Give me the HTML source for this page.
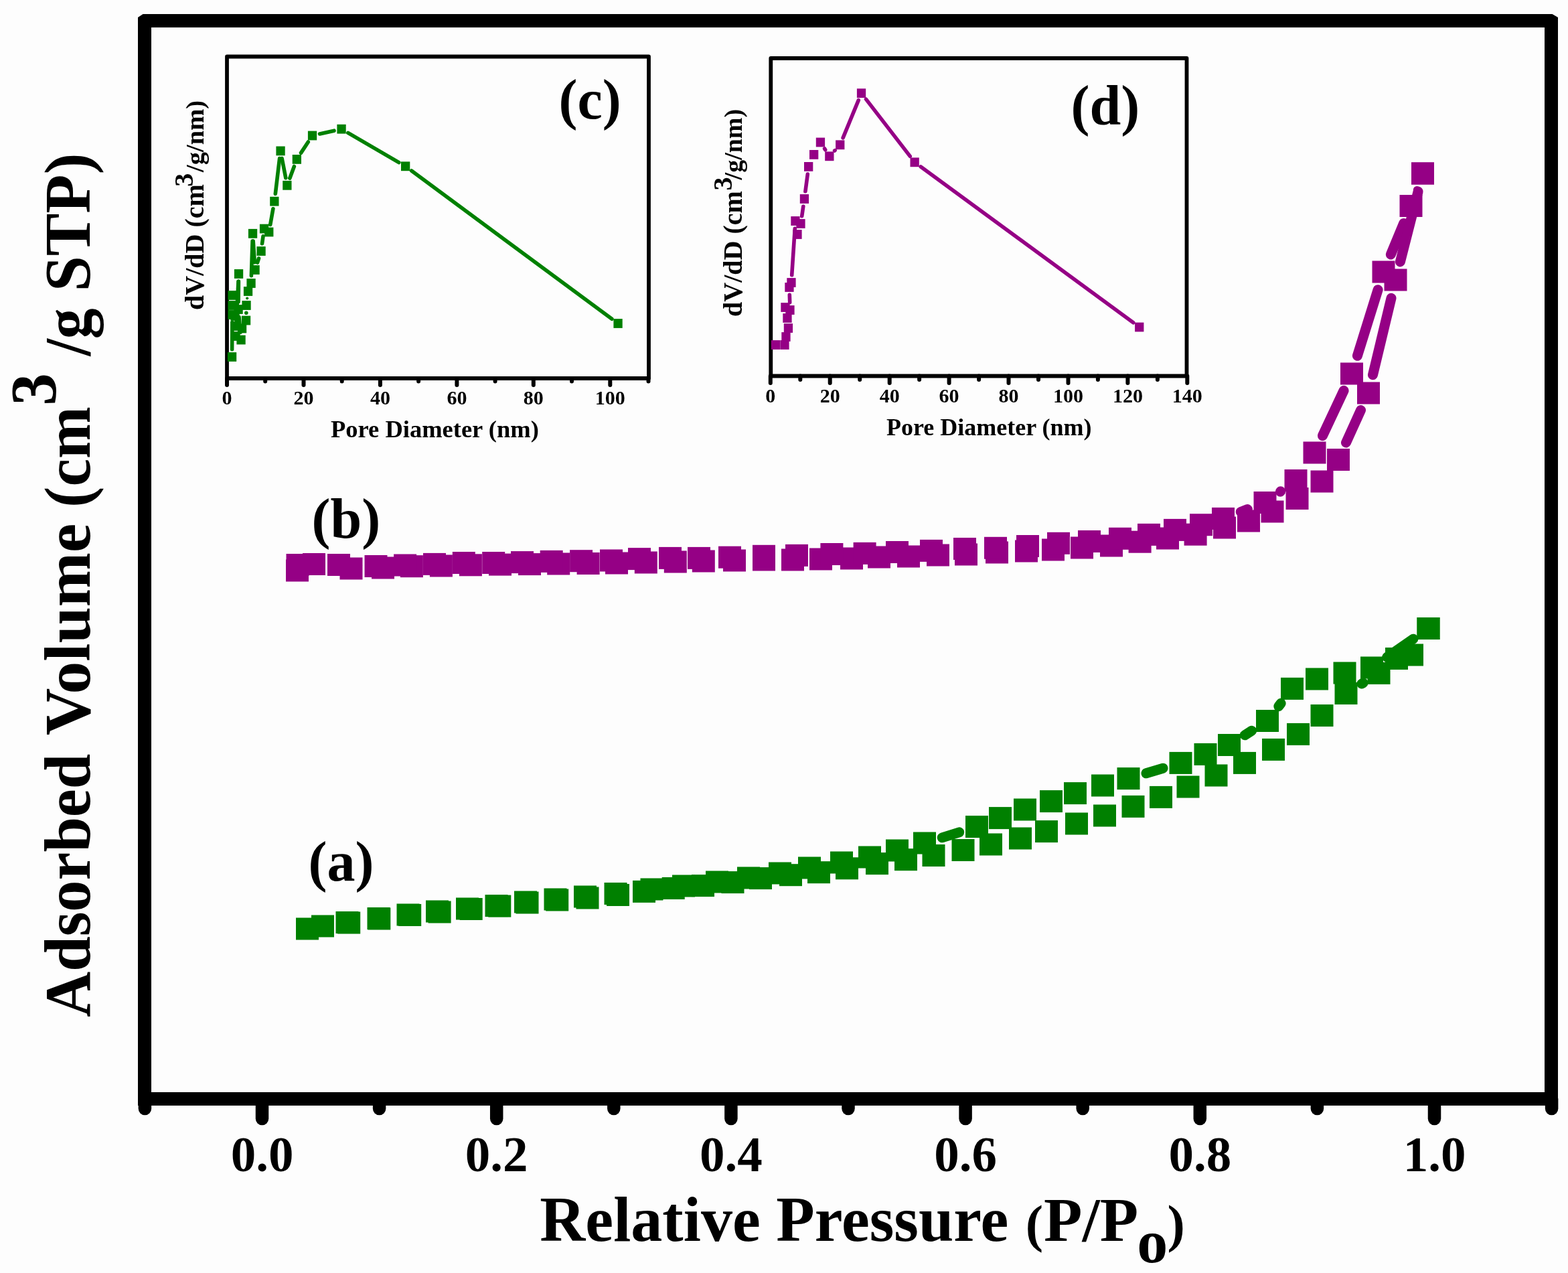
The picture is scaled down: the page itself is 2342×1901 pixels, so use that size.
<!DOCTYPE html><html><head><meta charset="utf-8"><title>Adsorption isotherm</title><style>html,body{margin:0;padding:0;background:#fdfdfd}svg{display:block}</style></head><body>
<svg width="2342" height="1901" viewBox="0 0 2342 1901">
<rect width="2342" height="1901" fill="#fdfdfd"/>
<g stroke="#008000" stroke-width="15" stroke-linecap="round" fill="none"><line x1="2110.9" y1="954.2" x2="2071.6" y2="981.3"/><line x1="1913.2" y1="1050.2" x2="1909.8" y2="1054.7"/><line x1="1869.7" y1="1091.2" x2="1859.3" y2="1097.8"/><line x1="1737.1" y1="1147.2" x2="1711.9" y2="1154.8"/><line x1="1432.8" y1="1242.8" x2="1407.2" y2="1250.8"/></g>
<g stroke="#008000" stroke-width="15" stroke-linecap="round" fill="none"><line x1="2033.9" y1="1021.1" x2="2036.1" y2="1019.8"/></g>
<g stroke="#950085" stroke-width="15" stroke-linecap="round" fill="none"><circle cx="2116.2" cy="283.2" r="5.3" stroke="none" fill="#950085"/><line x1="2096.7" y1="333.4" x2="2077.3" y2="380.1"/><line x1="2058.1" y1="432.7" x2="2027.4" y2="531.3"/><line x1="2007.1" y1="583.3" x2="1975.4" y2="650.7"/><line x1="1912.7" y1="733.8" x2="1912.3" y2="734.2"/><line x1="1863.3" y1="760.5" x2="1853.2" y2="764.4"/><circle cx="1216.2" cy="828.5" r="5.7" stroke="none" fill="#950085"/><circle cx="533.8" cy="844.5" r="7.3" stroke="none" fill="#950085"/><line x1="478.0" y1="843.5" x2="472.5" y2="843.5"/></g>
<g stroke="#950085" stroke-width="15" stroke-linecap="round" fill="none"><circle cx="496.8" cy="845.8" r="7.4" stroke="none" fill="#950085"/><line x1="2010.5" y1="661.0" x2="2032.5" y2="612.5"/><line x1="2050.5" y1="559.8" x2="2078.0" y2="445.2"/><line x1="2091.4" y1="390.9" x2="2118.1" y2="286.1"/></g>
<g fill="#008000"><rect x="504.2" y="1361.5" width="34" height="33"/><rect x="549.3" y="1355.5" width="34" height="33"/><rect x="595.2" y="1350.0" width="34" height="33"/><rect x="639.6" y="1345.5" width="34" height="33"/><rect x="686.7" y="1341.0" width="34" height="33"/><rect x="729.3" y="1336.6" width="34" height="33"/><rect x="770.5" y="1331.5" width="34" height="33"/><rect x="815.2" y="1327.5" width="34" height="33"/><rect x="860.5" y="1324.5" width="34" height="33"/><rect x="906.0" y="1320.0" width="34" height="33"/><rect x="442.0" y="1370.5" width="34" height="33"/><rect x="465.0" y="1366.5" width="34" height="33"/><rect x="501.5" y="1361.0" width="34" height="33"/><rect x="548.5" y="1355.0" width="34" height="33"/><rect x="592.5" y="1349.5" width="34" height="33"/><rect x="636.0" y="1344.5" width="34" height="33"/><rect x="681.0" y="1340.5" width="34" height="33"/><rect x="724.5" y="1336.1" width="34" height="33"/><rect x="768.0" y="1330.5" width="34" height="33"/><rect x="812.5" y="1326.5" width="34" height="33"/><rect x="857.0" y="1322.5" width="34" height="33"/><rect x="902.5" y="1318.0" width="34" height="33"/><rect x="945.0" y="1314.9" width="34" height="33"/><rect x="988.7" y="1310.0" width="34" height="33"/><rect x="1033.0" y="1306.1" width="34" height="33"/><rect x="1077.5" y="1301.1" width="34" height="33"/><rect x="1119.0" y="1295.1" width="34" height="33"/><rect x="1164.0" y="1290.2" width="34" height="33"/><rect x="1206.0" y="1286.2" width="34" height="33"/><rect x="1248.0" y="1280.3" width="34" height="33"/><rect x="1293.0" y="1273.1" width="34" height="33"/><rect x="1336.0" y="1267.2" width="34" height="33"/><rect x="1377.5" y="1261.0" width="34" height="33"/><rect x="1421.5" y="1253.0" width="34" height="33"/><rect x="1463.0" y="1244.5" width="34" height="33"/><rect x="1507.0" y="1235.5" width="34" height="33"/><rect x="1546.0" y="1225.1" width="34" height="33"/><rect x="1591.0" y="1213.5" width="34" height="33"/><rect x="1633.0" y="1201.5" width="34" height="33"/><rect x="1675.5" y="1187.9" width="34" height="33"/><rect x="1717.0" y="1173.9" width="34" height="33"/><rect x="1757.5" y="1158.5" width="34" height="33"/><rect x="1799.5" y="1141.5" width="34" height="33"/><rect x="1842.0" y="1122.9" width="34" height="33"/><rect x="1885.0" y="1102.9" width="34" height="33"/><rect x="1922.0" y="1079.9" width="34" height="33"/><rect x="1957.5" y="1052.0" width="34" height="33"/><rect x="1993.5" y="1019.0" width="34" height="33"/><rect x="2042.5" y="988.9" width="34" height="33"/><rect x="2069.0" y="967.0" width="34" height="33"/><rect x="2092.0" y="961.5" width="34" height="33"/><rect x="2116.5" y="922.0" width="34" height="33"/><rect x="2116.5" y="922.0" width="34" height="33"/><rect x="2032.0" y="980.5" width="34" height="33"/><rect x="1991.5" y="988.5" width="34" height="33"/><rect x="1950.0" y="997.5" width="34" height="33"/><rect x="1913.0" y="1011.9" width="34" height="33"/><rect x="1876.0" y="1060.0" width="34" height="33"/><rect x="1819.0" y="1096.0" width="34" height="33"/><rect x="1783.5" y="1109.9" width="34" height="33"/><rect x="1746.5" y="1122.9" width="34" height="33"/><rect x="1668.5" y="1146.1" width="34" height="33"/><rect x="1630.0" y="1156.5" width="34" height="33"/><rect x="1589.0" y="1168.1" width="34" height="33"/><rect x="1553.0" y="1180.1" width="34" height="33"/><rect x="1514.0" y="1192.5" width="34" height="33"/><rect x="1477.0" y="1205.1" width="34" height="33"/><rect x="1442.0" y="1218.1" width="34" height="33"/><rect x="1364.0" y="1242.5" width="34" height="33"/><rect x="1323.0" y="1253.5" width="34" height="33"/><rect x="1282.0" y="1263.5" width="34" height="33"/><rect x="1240.0" y="1271.5" width="34" height="33"/><rect x="1192.0" y="1279.5" width="34" height="33"/><rect x="1148.0" y="1287.5" width="34" height="33"/><rect x="1101.0" y="1294.5" width="34" height="33"/><rect x="1054.0" y="1300.5" width="34" height="33"/><rect x="1004.0" y="1306.5" width="34" height="33"/><rect x="956.5" y="1311.5" width="34" height="33"/></g>
<g fill="#950085"><rect x="427.0" y="835.5" width="34" height="33"/><rect x="452.0" y="826.0" width="34" height="33"/><rect x="507.5" y="832.5" width="34" height="33"/><rect x="555.0" y="831.5" width="34" height="33"/><rect x="597.9" y="829.2" width="34" height="33"/><rect x="641.9" y="828.5" width="34" height="33"/><rect x="685.9" y="827.3" width="34" height="33"/><rect x="730.0" y="826.6" width="34" height="33"/><rect x="774.0" y="826.1" width="34" height="33"/><rect x="817.2" y="825.5" width="34" height="33"/><rect x="861.6" y="825.0" width="34" height="33"/><rect x="904.0" y="824.5" width="34" height="33"/><rect x="947.8" y="823.5" width="34" height="33"/><rect x="991.8" y="822.5" width="34" height="33"/><rect x="1033.8" y="821.5" width="34" height="33"/><rect x="1080.0" y="820.5" width="34" height="33"/><rect x="1124.0" y="819.5" width="34" height="33"/><rect x="1167.0" y="819.5" width="34" height="33"/><rect x="1209.0" y="818.5" width="34" height="33"/><rect x="1255.0" y="817.5" width="34" height="33"/><rect x="1296.0" y="815.5" width="34" height="33"/><rect x="1340.0" y="814.5" width="34" height="33"/><rect x="1384.0" y="812.5" width="34" height="33"/><rect x="1426.0" y="811.5" width="34" height="33"/><rect x="1472.0" y="808.5" width="34" height="33"/><rect x="1516.0" y="806.5" width="34" height="33"/><rect x="1556.0" y="804.5" width="34" height="33"/><rect x="1599.0" y="801.5" width="34" height="33"/><rect x="1643.0" y="798.5" width="34" height="33"/><rect x="1685.6" y="792.7" width="34" height="33"/><rect x="1727.0" y="787.5" width="34" height="33"/><rect x="1768.6" y="781.7" width="34" height="33"/><rect x="1812.0" y="771.5" width="34" height="33"/><rect x="1848.0" y="761.5" width="34" height="33"/><rect x="1883.5" y="747.5" width="34" height="33"/><rect x="1920.5" y="728.0" width="34" height="33"/><rect x="1957.5" y="702.5" width="34" height="33"/><rect x="1982.0" y="670.0" width="34" height="33"/><rect x="2027.0" y="570.5" width="34" height="33"/><rect x="2067.5" y="401.5" width="34" height="33"/><rect x="2108.0" y="242.5" width="34" height="33"/><rect x="2108.0" y="242.5" width="34" height="33"/><rect x="2090.5" y="291.0" width="34" height="33"/><rect x="2049.5" y="389.5" width="34" height="33"/><rect x="2002.0" y="541.5" width="34" height="33"/><rect x="1946.5" y="659.5" width="34" height="33"/><rect x="1918.5" y="701.0" width="34" height="33"/><rect x="1872.5" y="734.0" width="34" height="33"/><rect x="1810.0" y="757.9" width="34" height="33"/><rect x="1777.0" y="767.2" width="34" height="33"/><rect x="1738.0" y="774.9" width="34" height="33"/><rect x="1699.0" y="781.9" width="34" height="33"/><rect x="1656.0" y="787.8" width="34" height="33"/><rect x="1610.0" y="792.0" width="34" height="33"/><rect x="1564.0" y="794.8" width="34" height="33"/><rect x="1518.0" y="799.0" width="34" height="33"/><rect x="1470.0" y="801.8" width="34" height="33"/><rect x="1424.0" y="803.0" width="34" height="33"/><rect x="1374.0" y="805.9" width="34" height="33"/><rect x="1323.0" y="808.0" width="34" height="33"/><rect x="1274.6" y="809.9" width="34" height="33"/><rect x="1225.4" y="811.0" width="34" height="33"/><rect x="1173.0" y="812.9" width="34" height="33"/><rect x="1124.0" y="813.8" width="34" height="33"/><rect x="1073.0" y="815.7" width="34" height="33"/><rect x="1027.0" y="816.9" width="34" height="33"/><rect x="984.0" y="816.9" width="34" height="33"/><rect x="938.0" y="818.1" width="34" height="33"/><rect x="896.0" y="820.5" width="34" height="33"/><rect x="851.1" y="821.2" width="34" height="33"/><rect x="806.7" y="821.9" width="34" height="33"/><rect x="763.0" y="823.1" width="34" height="33"/><rect x="720.2" y="824.0" width="34" height="33"/><rect x="675.8" y="824.0" width="34" height="33"/><rect x="632.0" y="825.9" width="34" height="33"/><rect x="588.1" y="827.5" width="34" height="33"/><rect x="544.5" y="829.0" width="34" height="33"/><rect x="489.0" y="827.0" width="34" height="33"/><rect x="427.5" y="827.0" width="34" height="33"/></g>
<g stroke="#000" fill="none">
<rect x="216" y="31" width="2101" height="1610" stroke-width="20"/>
<line x1="216.4" y1="1641" x2="216.4" y2="1655.5" stroke-width="19.5" stroke-linecap="round"/>
<line x1="391.5" y1="1641" x2="391.5" y2="1670.5" stroke-width="19.5" stroke-linecap="round"/>
<line x1="566.6" y1="1641" x2="566.6" y2="1655.5" stroke-width="19.5" stroke-linecap="round"/>
<line x1="741.7" y1="1641" x2="741.7" y2="1670.5" stroke-width="19.5" stroke-linecap="round"/>
<line x1="916.8" y1="1641" x2="916.8" y2="1655.5" stroke-width="19.5" stroke-linecap="round"/>
<line x1="1091.9" y1="1641" x2="1091.9" y2="1670.5" stroke-width="19.5" stroke-linecap="round"/>
<line x1="1267.0" y1="1641" x2="1267.0" y2="1655.5" stroke-width="19.5" stroke-linecap="round"/>
<line x1="1442.1" y1="1641" x2="1442.1" y2="1670.5" stroke-width="19.5" stroke-linecap="round"/>
<line x1="1617.2" y1="1641" x2="1617.2" y2="1655.5" stroke-width="19.5" stroke-linecap="round"/>
<line x1="1792.3" y1="1641" x2="1792.3" y2="1670.5" stroke-width="19.5" stroke-linecap="round"/>
<line x1="1967.4" y1="1641" x2="1967.4" y2="1655.5" stroke-width="19.5" stroke-linecap="round"/>
<line x1="2142.5" y1="1641" x2="2142.5" y2="1670.5" stroke-width="19.5" stroke-linecap="round"/>
<line x1="2317.6" y1="1641" x2="2317.6" y2="1655.5" stroke-width="19.5" stroke-linecap="round"/>
</g>
<polygon points="200,15 213.5,15 213.5,21 206,26 200,26" fill="#fdfdfd"/><polygon points="2318.5,15 2333,15 2333,26 2327,26 2318.5,21" fill="#fdfdfd"/>
<g font-family="Liberation Serif, Times New Roman, serif" font-weight="bold" font-size="75" text-anchor="middle" fill="#000">
<text x="391.5" y="1749">0.0</text>
<text x="741.7" y="1749">0.2</text>
<text x="1091.9" y="1749">0.4</text>
<text x="1442.1" y="1749">0.6</text>
<text x="1792.3" y="1749">0.8</text>
<text x="2142.5" y="1749">1.0</text>
</g>
<g font-family="Liberation Serif, Times New Roman, serif" font-weight="bold" fill="#000">
<text transform="translate(808.2,1852.6) scale(0.985,1)" x="-1.9" font-size="95.6">Relative Pressure</text>
<text x="1531.8" y="1853.5" font-size="79">(</text>
<text x="1559.1" y="1852.7" font-size="94">P/P</text>
<text x="1698.3" y="1884.7" font-size="92">o</text>
<text x="1743.6" y="1853.5" font-size="79">)</text>
</g>
<g font-family="Liberation Serif, Times New Roman, serif" font-weight="bold" fill="#000">
<text transform="translate(134,1518.9) rotate(-90) scale(0.9725,1)" font-size="97" >Adsorbed</text>
<text transform="translate(134,1097.9) rotate(-90) scale(1.0056,1)" font-size="97" >Volume</text>
<text transform="translate(134,757.7) rotate(-90) scale(0.9644,1)" font-size="97" >(cm</text>
<text transform="translate(82.5,605.8) rotate(-90)" font-size="97" >3</text>
<text transform="translate(134,531.6) rotate(-90) scale(0.9450,1)" font-size="97" >/g</text>
<text transform="translate(134,435.3) rotate(-90) scale(0.9836,1)" font-size="97" >STP)</text>
</g>
<g font-family="Liberation Serif, Times New Roman, serif" font-weight="bold" font-size="84" fill="#000">
<text x="460.6" y="1315.2">(a)</text>
<text x="465.6" y="803">(b)</text>
<text x="834.6" y="177">(c)</text>
<text x="1599.6" y="186">(d)</text>
</g>
<g stroke="#000" fill="none"><rect x="339" y="84.5" width="630" height="480.5" stroke-width="5.8" stroke-linejoin="round"/><line x1="339.0" y1="565" x2="339.0" y2="575" stroke-width="6" stroke-linecap="round"/><line x1="396.2" y1="565" x2="396.2" y2="569.5" stroke-width="6" stroke-linecap="round"/><line x1="453.5" y1="565" x2="453.5" y2="575" stroke-width="6" stroke-linecap="round"/><line x1="510.7" y1="565" x2="510.7" y2="569.5" stroke-width="6" stroke-linecap="round"/><line x1="567.9" y1="565" x2="567.9" y2="575" stroke-width="6" stroke-linecap="round"/><line x1="625.1" y1="565" x2="625.1" y2="569.5" stroke-width="6" stroke-linecap="round"/><line x1="682.4" y1="565" x2="682.4" y2="575" stroke-width="6" stroke-linecap="round"/><line x1="739.6" y1="565" x2="739.6" y2="569.5" stroke-width="6" stroke-linecap="round"/><line x1="796.8" y1="565" x2="796.8" y2="575" stroke-width="6" stroke-linecap="round"/><line x1="854.0" y1="565" x2="854.0" y2="569.5" stroke-width="6" stroke-linecap="round"/><line x1="911.3" y1="565" x2="911.3" y2="575" stroke-width="6" stroke-linecap="round"/><line x1="968.5" y1="565" x2="968.5" y2="569.5" stroke-width="6" stroke-linecap="round"/></g><g font-family="Liberation Serif, Times New Roman, serif" font-weight="bold" font-size="30" text-anchor="middle" fill="#000"><text x="339.0" y="603.5">0</text><text x="453.5" y="603.5">20</text><text x="567.9" y="603.5">40</text><text x="682.4" y="603.5">60</text><text x="796.8" y="603.5">80</text><text x="911.3" y="603.5">100</text></g>
<g stroke="#008000" stroke-width="5.6" stroke-linecap="round" fill="none"><line x1="346.6" y1="521.7" x2="346.9" y2="481.3"/><line x1="347.0" y1="458.7" x2="347.0" y2="452.3"/><line x1="352.5" y1="490.7" x2="356.0" y2="420.3"/><line x1="356.4" y1="420.3" x2="356.1" y2="450.7"/><line x1="357.0" y1="473.3" x2="359.0" y2="496.2"/><circle cx="367.8" cy="467.2" r="2.8" stroke="none" fill="#008000"/><circle cx="369.2" cy="445.5" r="2.1" stroke="none" fill="#008000"/><line x1="375.4" y1="411.7" x2="377.1" y2="360.1"/><line x1="378.2" y1="360.1" x2="380.3" y2="391.7"/><line x1="384.5" y1="392.2" x2="386.5" y2="385.8"/><line x1="391.5" y1="363.8" x2="393.0" y2="352.8"/><line x1="403.7" y1="335.4" x2="407.9" y2="311.8"/><line x1="411.3" y1="289.5" x2="417.6" y2="236.6"/><line x1="421.1" y1="236.5" x2="426.8" y2="265.7"/><line x1="432.8" y1="266.2" x2="439.4" y2="248.5"/><line x1="449.5" y1="228.4" x2="460.3" y2="212.0"/><line x1="477.5" y1="200.0" x2="499.0" y2="195.2"/><line x1="519.8" y1="198.4" x2="595.8" y2="242.6"/><line x1="614.7" y1="255.0" x2="913.9" y2="476.3"/></g>
<g fill="#008000"><rect x="339.9" y="526.1" width="13.3" height="13.8"/><rect x="340.4" y="463.1" width="13.3" height="13.8"/><rect x="340.4" y="434.1" width="13.3" height="13.8"/><rect x="340.4" y="449.1" width="13.3" height="13.8"/><rect x="344.4" y="465.1" width="13.3" height="13.8"/><rect x="344.4" y="480.1" width="13.3" height="13.8"/><rect x="345.4" y="495.1" width="13.3" height="13.8"/><rect x="349.9" y="402.1" width="13.3" height="13.8"/><rect x="349.4" y="455.1" width="13.3" height="13.8"/><rect x="353.4" y="500.6" width="13.3" height="13.8"/><rect x="354.9" y="483.6" width="13.3" height="13.8"/><rect x="360.9" y="471.6" width="13.3" height="13.8"/><rect x="361.4" y="449.1" width="13.3" height="13.8"/><rect x="363.9" y="428.1" width="13.3" height="13.8"/><rect x="368.4" y="416.1" width="13.3" height="13.8"/><rect x="370.9" y="341.9" width="13.3" height="13.8"/><rect x="374.4" y="396.1" width="13.3" height="13.8"/><rect x="383.4" y="368.1" width="13.3" height="13.8"/><rect x="387.9" y="334.7" width="13.3" height="13.8"/><rect x="395.1" y="339.6" width="13.3" height="13.8"/><rect x="403.2" y="293.8" width="13.3" height="13.8"/><rect x="412.4" y="218.5" width="13.3" height="13.8"/><rect x="422.2" y="269.9" width="13.3" height="13.8"/><rect x="436.7" y="231.0" width="13.3" height="13.8"/><rect x="459.9" y="195.6" width="13.3" height="13.8"/><rect x="503.4" y="185.8" width="13.3" height="13.8"/><rect x="599.0" y="241.4" width="13.3" height="13.8"/><rect x="916.4" y="476.1" width="13.3" height="13.8"/></g>
<g stroke="#000" fill="none"><rect x="1151.3" y="87" width="621.2" height="474.5" stroke-width="5.8" stroke-linejoin="round"/><line x1="1150.8" y1="561.5" x2="1150.8" y2="572" stroke-width="6" stroke-linecap="round"/><line x1="1195.3" y1="561.5" x2="1195.3" y2="567" stroke-width="6" stroke-linecap="round"/><line x1="1239.7" y1="561.5" x2="1239.7" y2="572" stroke-width="6" stroke-linecap="round"/><line x1="1284.2" y1="561.5" x2="1284.2" y2="567" stroke-width="6" stroke-linecap="round"/><line x1="1328.7" y1="561.5" x2="1328.7" y2="572" stroke-width="6" stroke-linecap="round"/><line x1="1373.1" y1="561.5" x2="1373.1" y2="567" stroke-width="6" stroke-linecap="round"/><line x1="1417.6" y1="561.5" x2="1417.6" y2="572" stroke-width="6" stroke-linecap="round"/><line x1="1462.1" y1="561.5" x2="1462.1" y2="567" stroke-width="6" stroke-linecap="round"/><line x1="1506.5" y1="561.5" x2="1506.5" y2="572" stroke-width="6" stroke-linecap="round"/><line x1="1551.0" y1="561.5" x2="1551.0" y2="567" stroke-width="6" stroke-linecap="round"/><line x1="1595.5" y1="561.5" x2="1595.5" y2="572" stroke-width="6" stroke-linecap="round"/><line x1="1639.9" y1="561.5" x2="1639.9" y2="567" stroke-width="6" stroke-linecap="round"/><line x1="1684.4" y1="561.5" x2="1684.4" y2="572" stroke-width="6" stroke-linecap="round"/><line x1="1728.9" y1="561.5" x2="1728.9" y2="567" stroke-width="6" stroke-linecap="round"/><line x1="1773.3" y1="561.5" x2="1773.3" y2="572" stroke-width="6" stroke-linecap="round"/></g><g font-family="Liberation Serif, Times New Roman, serif" font-weight="bold" font-size="30" text-anchor="middle" fill="#000"><text x="1150.8" y="600.5">0</text><text x="1239.7" y="600.5">20</text><text x="1328.7" y="600.5">40</text><text x="1417.6" y="600.5">60</text><text x="1506.5" y="600.5">80</text><text x="1595.5" y="600.5">100</text><text x="1684.4" y="600.5">120</text><text x="1773.3" y="600.5">140</text></g>
<g stroke="#950085" stroke-width="5.6" stroke-linecap="round" fill="none"><line x1="1179.7" y1="451.7" x2="1179.3" y2="440.3"/><line x1="1182.7" y1="410.7" x2="1187.3" y2="341.3"/><line x1="1197.7" y1="322.8" x2="1199.8" y2="308.2"/><line x1="1202.9" y1="285.8" x2="1206.3" y2="260.1"/><line x1="1231.6" y1="222.0" x2="1232.7" y2="223.8"/><line x1="1246.6" y1="225.0" x2="1247.1" y2="224.6"/><line x1="1259.1" y1="205.9" x2="1282.3" y2="149.6"/><line x1="1293.5" y1="148.1" x2="1359.3" y2="233.4"/><line x1="1375.3" y1="249.0" x2="1692.7" y2="481.8"/></g>
<g fill="#950085"><rect x="1151.8" y="508.1" width="13.3" height="13.8"/><rect x="1165.3" y="508.1" width="13.3" height="13.8"/><rect x="1167.3" y="496.1" width="13.3" height="13.8"/><rect x="1170.8" y="483.1" width="13.3" height="13.8"/><rect x="1169.3" y="468.1" width="13.3" height="13.8"/><rect x="1166.3" y="452.1" width="13.3" height="13.8"/><rect x="1173.3" y="456.1" width="13.3" height="13.8"/><rect x="1172.3" y="422.1" width="13.3" height="13.8"/><rect x="1175.3" y="415.1" width="13.3" height="13.8"/><rect x="1181.3" y="323.1" width="13.3" height="13.8"/><rect x="1184.3" y="343.1" width="13.3" height="13.8"/><rect x="1189.3" y="327.1" width="13.3" height="13.8"/><rect x="1194.8" y="290.1" width="13.3" height="13.8"/><rect x="1201.0" y="242.0" width="13.3" height="13.8"/><rect x="1209.0" y="224.0" width="13.3" height="13.8"/><rect x="1218.8" y="205.6" width="13.3" height="13.8"/><rect x="1232.2" y="226.4" width="13.3" height="13.8"/><rect x="1248.1" y="209.4" width="13.3" height="13.8"/><rect x="1279.9" y="132.3" width="13.3" height="13.8"/><rect x="1359.5" y="235.4" width="13.3" height="13.8"/><rect x="1695.1" y="481.6" width="13.3" height="13.8"/></g>
<g font-family="Liberation Serif, Times New Roman, serif" font-weight="bold" fill="#000">
<text x="494" y="653.4" font-size="36.5">Pore Diameter (nm)</text>
<text x="1324" y="650.4" font-size="36">Pore Diameter (nm)</text>
<text transform="translate(303.5,462.9) rotate(-90)" font-size="40" >dV/dD (cm</text>
<text transform="translate(287.5,278.8) rotate(-90)" font-size="40" >3</text>
<text transform="translate(303.5,256.9) rotate(-90)" font-size="38.5" >/g/nm)</text>
<text transform="translate(1108,472.9) rotate(-90)" font-size="40" >dV/dD (cm</text>
<text transform="translate(1093,284.6) rotate(-90)" font-size="40" >3</text>
<text transform="translate(1108,268.4) rotate(-90)" font-size="38" >/g/nm)</text>
</g>
</svg></body></html>
